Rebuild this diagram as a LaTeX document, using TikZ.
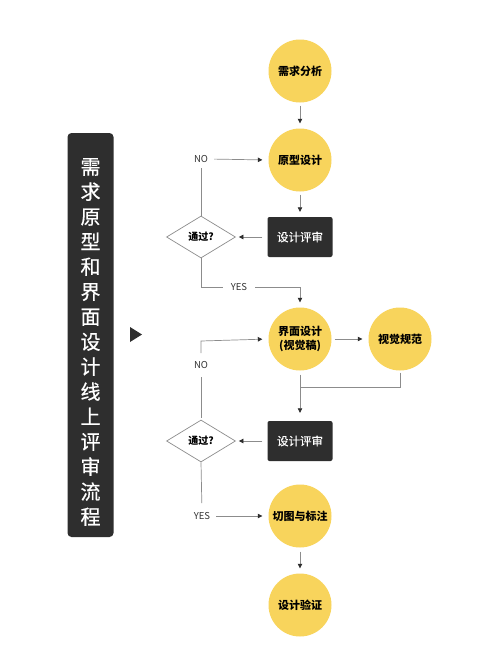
\documentclass[tikz,border=0pt]{standalone}
\usepackage{fontspec}
\setmainfont{Noto Sans CJK SC}
\newfontfamily\medfont[FakeBold=0.6]{Noto Sans CJK SC}
\usetikzlibrary{arrows.meta,shapes.geometric}
\definecolor{ylw}{HTML}{F8D45C}
\definecolor{drk}{HTML}{2E2E2E}
\definecolor{lgray}{HTML}{8C8C8C}
\definecolor{tgray}{HTML}{333333}
\tikzset{
  stepcircle/.style={circle,fill=ylw,draw=none,minimum size=63pt,inner sep=0pt,align=center,font=\fontsize{11}{14}\selectfont\bfseries,text=black},
  reviewbox/.style={rectangle,rounded corners=2pt,fill=drk,draw=none,minimum width=65pt,minimum height=40pt,inner sep=0pt,font=\fontsize{11.5}{14}\selectfont\medfont,text=white},
  decide/.style={diamond,draw=lgray,line width=0.7pt,fill=white,minimum width=69pt,minimum height=42pt,inner sep=0pt,aspect=1.64,font=\fontsize{10}{12}\selectfont\bfseries,text=black},
  lbl/.style={font=\fontsize{9.5}{11}\selectfont,text=tgray,inner sep=0pt},
  conn/.style={draw=lgray,line width=0.7pt},
  arr/.style={conn,-{Triangle[length=4.5pt,width=4.5pt,color=drk]}},
}
\begin{document}
\begin{tikzpicture}[x=1pt,y=-1pt]
\useasboundingbox[fill=white] (0,0) rectangle (500,653);
% title
\fill[drk,rounded corners=4pt] (67.5,133) rectangle (113.5,537);
\node[inner sep=0pt,align=center,text=white,font=\fontsize{20}{25}\selectfont\medfont] (title) at (90.5,342)
 {需\\求\\原\\型\\和\\界\\面\\设\\计\\线\\上\\评\\审\\流\\程};
\fill[drk] (130,327) -- (142,334.5) -- (130,342) -- cycle;
% nodes
\node[stepcircle] (c1) at (300,71) {需求分析};
\node[stepcircle] (c2) at (300,160) {原型设计};
\node[reviewbox] (b1) at (300,237) {设计评审};
\node[decide] (d1) at (201,237) {通过?};
\node[stepcircle] (c3) at (300,339) {界面设计\\(视觉稿)};
\node[stepcircle] (c4) at (400,339) {视觉规范};
\node[reviewbox] (b2) at (300,441) {设计评审};
\node[decide] (d2) at (201,441) {通过?};
\node[stepcircle] (c5) at (300,516) {切图与标注};
\node[stepcircle] (c6) at (300,605) {设计验证};
% labels
\node[lbl] (no1) at (201,159) {NO};
\node[lbl] (yes1) at (239,287) {YES};
\node[lbl] (no2) at (201,365) {NO};
\node[lbl] (yes2) at (202,516) {YES};
\coordinate (k1) at (201,287);
\coordinate (k2) at (300,287);
\coordinate (k3) at (400,387);
\coordinate (k4) at (300,387);
\coordinate (k5) at (201,341);
% connectors
\draw[arr,shorten <=3pt,shorten >=5pt] (c1) -- (c2);
\draw[arr,shorten <=3pt,shorten >=5pt] (c2) -- (b1);
\draw[arr,shorten <=5pt,shorten >=3pt] (b1) -- (d1);
\draw[conn,shorten >=5pt] (d1.north) -- (no1.south);
\draw[arr,shorten <=6pt,shorten >=6pt] (no1.east) -- (c2.west);
\draw[conn,shorten >=8pt] (d1.south) -- (k1) -- (yes1.west);
\draw[arr,shorten <=8pt,shorten >=5pt] (yes1.east) -- (k2) -- (c3.north);
\draw[arr,shorten <=3pt,shorten >=6pt] (c3) -- (c4);
\draw[conn,shorten <=2pt] (c4.south) -- (k3) -- (k4);
\draw[arr,shorten <=4pt,shorten >=8pt] (c3.south) -- (b2.north);
\draw[arr,shorten <=5pt,shorten >=3pt] (b2) -- (d2);
\draw[conn,shorten <=2pt,shorten >=8pt] (d2.north) -- (no2.south);
\draw[arr,shorten <=8pt,shorten >=6pt] (no2.north) -- (k5) -- (c3.west);
\draw[conn,shorten >=9pt] (d2.south) -- (yes2.north);
\draw[arr,shorten <=6pt,shorten >=6pt] (yes2.east) -- (c5.west);
\draw[arr,shorten <=4pt,shorten >=5pt] (c5) -- (c6);
\end{tikzpicture}
\end{document}
